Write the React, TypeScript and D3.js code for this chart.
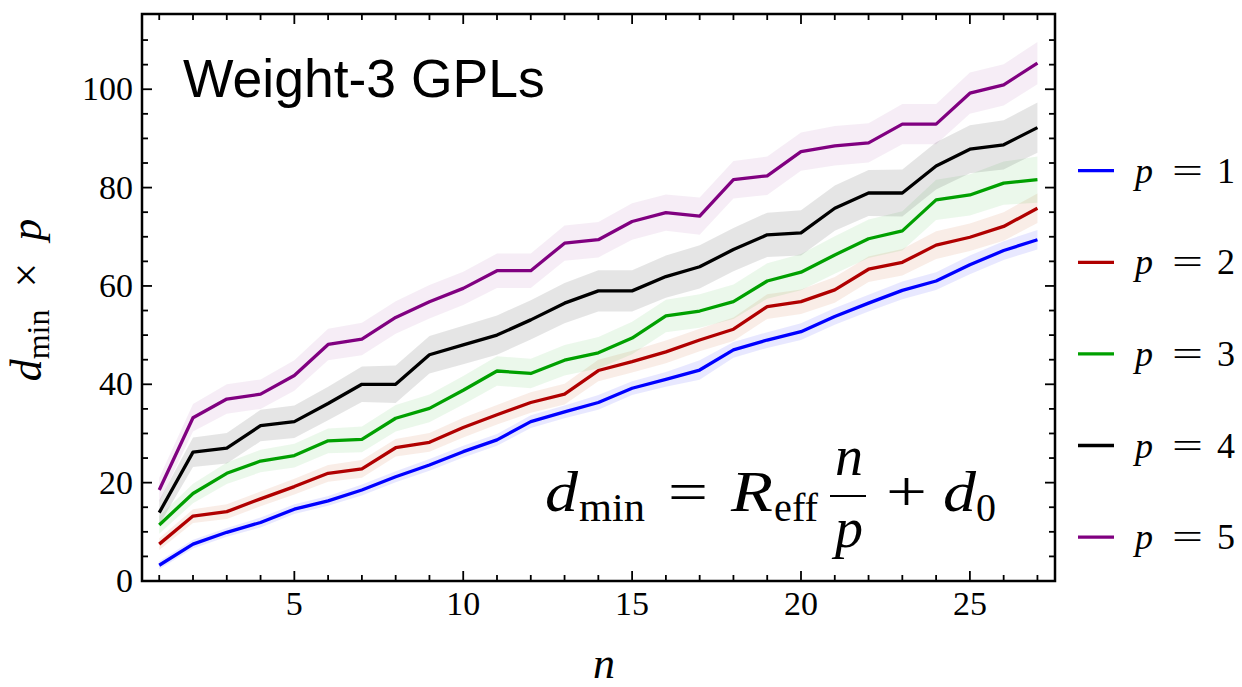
import React from "react";
import * as d3 from "d3";

const nValues = d3.range(1, 28);

const seriesP1 = [3.2, 7.5, 9.9, 11.9, 14.6, 16.3, 18.5, 21.2, 23.6, 26.3, 28.7, 32.4, 34.4, 36.3, 39.2, 41.0, 42.9, 47.0, 49.0, 50.7, 53.8, 56.5, 59.1, 61.0, 64.3, 67.2, 69.4];
const seriesP2 = [7.5, 13.2, 14.1, 16.7, 19.2, 21.9, 22.8, 27.1, 28.2, 31.2, 33.8, 36.3, 38.0, 42.8, 44.6, 46.6, 49.0, 51.2, 55.8, 56.8, 59.2, 63.4, 64.8, 68.3, 69.9, 72.1, 75.8];
const seriesP3 = [11.4, 17.8, 21.9, 24.4, 25.5, 28.5, 28.8, 33.1, 35.1, 38.8, 42.7, 42.2, 44.9, 46.4, 49.4, 53.9, 54.9, 56.8, 61.0, 62.8, 66.3, 69.6, 71.2, 77.5, 78.5, 80.9, 81.6];
const seriesP4 = [13.9, 26.2, 27.0, 31.6, 32.4, 36.1, 40.0, 40.0, 46.0, 48.0, 50.0, 53.1, 56.5, 59.0, 59.0, 61.9, 63.9, 67.4, 70.4, 70.8, 75.8, 78.9, 78.9, 84.4, 87.8, 88.7, 92.2];
const seriesP5 = [18.5, 33.2, 37.0, 38.0, 41.8, 48.1, 49.2, 53.6, 56.8, 59.5, 63.1, 63.1, 68.7, 69.4, 73.1, 74.9, 74.2, 81.6, 82.4, 87.3, 88.5, 89.1, 92.9, 92.9, 99.2, 100.9, 105.3];

// estimated half-widths of the shaded bands
const bandP1 = [0.8, 0.9, 0.9, 1.0, 1.0, 1.0, 1.1, 1.1, 1.2, 1.2, 1.2, 1.3, 1.3, 1.5, 1.4, 1.5, 2.0, 1.6, 1.6, 1.7, 1.7, 1.7, 1.8, 1.8, 1.9, 1.9, 2.0];
const bandP2 = [1.2, 1.4, 1.5, 1.5, 1.6, 1.7, 1.8, 1.8, 1.9, 2.0, 2.0, 2.1, 2.1, 2.2, 2.2, 2.3, 2.3, 2.4, 2.5, 2.5, 2.6, 2.6, 2.7, 2.8, 2.8, 2.9, 3.0];
const bandP3 = [1.8, 2.0, 2.2, 2.3, 2.4, 2.5, 2.6, 2.7, 2.8, 2.9, 3.0, 3.0, 3.1, 3.2, 3.3, 3.3, 3.4, 3.5, 3.6, 3.7, 3.8, 3.9, 4.0, 4.1, 4.2, 4.4, 4.7];
const bandP4 = [2.5, 3.0, 3.1, 3.2, 3.3, 3.4, 3.6, 3.8, 3.8, 3.9, 4.0, 4.0, 4.1, 4.2, 4.2, 4.3, 4.4, 4.4, 4.5, 4.6, 4.6, 4.7, 4.8, 4.8, 4.9, 5.0, 5.1];
const bandP5 = [2.5, 2.8, 3.0, 3.0, 3.1, 3.2, 3.3, 3.3, 3.4, 3.4, 3.5, 3.5, 3.6, 3.6, 3.7, 3.7, 3.8, 3.8, 3.9, 3.9, 4.0, 4.0, 4.1, 4.1, 4.2, 4.2, 4.3];

const pLabels = ["1", "2", "3", "4", "5"];
const lineColors = ["#0000ff", "#b00000", "#00a000", "#000000", "#800080"];
const bandColors = ["rgba(0,0,255,0.09)", "rgba(200,90,40,0.11)", "rgba(0,160,0,0.08)", "rgba(0,0,0,0.10)", "rgba(128,0,128,0.07)"];

const xTicksMajor = [5, 10, 15, 20, 25];
const yTicksMajor = [0, 20, 40, 60, 80, 100];

const W = 1242;
const H = 687;
const L = 142, R = 1055, T = 14, B = 581;

export default function App() {
  const x = d3.scaleLinear().domain([0.49, 27.52]).range([L, R]);
  const y = d3.scaleLinear().domain([0, 115.3]).range([B, T]);

  const allSeries = [seriesP1, seriesP2, seriesP3, seriesP4, seriesP5];
  const allBands = [bandP1, bandP2, bandP3, bandP4, bandP5];

  const line = d3.line<number>().x((_, i) => x(nValues[i])).y((d) => y(d));
  const area = (vals: number[], band: number[]) =>
    d3
      .area<number>()
      .x((_, i) => x(nValues[i]))
      .y0((d, i) => y(d - band[i]))
      .y1((d, i) => y(d + band[i]))(vals) as string;

  const xMinor = d3.range(1, 28);
  const yMinor = d3.range(0, 115, 5);
  const serif = "'Liberation Serif', 'Times New Roman', serif";

  const legendY = (i: number) => 170.7 + i * 91.6;

  return (
    <svg width={W} height={H} style={{ position: "absolute", left: 0, top: 0, background: "#fff" }}>
      <defs>
        <clipPath id="plotclip">
          <rect x={L} y={T} width={R - L} height={B - T} />
        </clipPath>
      </defs>
      <rect x={0} y={0} width={W} height={H} fill="#fff" />
      <g clipPath="url(#plotclip)">
        {allSeries.map((s, k) => (
          <path key={"b" + k} d={area(s, allBands[k])} fill={bandColors[k]} stroke="none" />
        ))}
        {allSeries.map((s, k) => (
          <path key={"l" + k} d={line(s) as string} fill="none" stroke={lineColors[k]} strokeWidth={3.3} strokeLinejoin="round" />
        ))}
      </g>

      {/* frame */}
      <rect x={L} y={T} width={R - L} height={B - T} fill="none" stroke="#000" strokeWidth={2.5} />

      {/* x ticks bottom and top */}
      {xMinor.map((n) => {
        const len = n % 5 === 0 ? 10 : 6;
        return (
          <g key={"xt" + n}>
            <line x1={x(n)} x2={x(n)} y1={B} y2={B - len} stroke="#000" strokeWidth={1.8} />
            <line x1={x(n)} x2={x(n)} y1={T} y2={T + len} stroke="#000" strokeWidth={1.8} />
          </g>
        );
      })}
      {/* y ticks left and right */}
      {yMinor.map((v) => {
        const len = v % 20 === 0 ? 10 : 6;
        return (
          <g key={"yt" + v}>
            <line x1={L} x2={L + len} y1={y(v)} y2={y(v)} stroke="#000" strokeWidth={1.8} />
            <line x1={R} x2={R - len} y1={y(v)} y2={y(v)} stroke="#000" strokeWidth={1.8} />
          </g>
        );
      })}

      {/* tick labels */}
      {xTicksMajor.map((n) => (
        <text key={"xl" + n} x={x(n)} y={615} textAnchor="middle" fontFamily={serif} fontSize={34} fill="#000">
          {n}
        </text>
      ))}
      {yTicksMajor.map((v) => (
        <text key={"yl" + v} x={133} y={y(v) + 11} textAnchor="end" fontFamily={serif} fontSize={34} fill="#000">
          {v}
        </text>
      ))}

      {/* axis labels */}
      <text x={604} y={678} textAnchor="middle" fontFamily={serif} fontStyle="italic" fontSize={44} fill="#000">
        n
      </text>
      <text transform="translate(41,300) rotate(-90)" textAnchor="middle" fontFamily={serif} fontSize={44} fill="#000">
        <tspan fontStyle="italic">d</tspan>
        <tspan fontSize={32} dy={8}>min</tspan>
        <tspan dy={-8}>{"\u2002×\u2002"}</tspan>
        <tspan fontStyle="italic">p</tspan>
      </text>

      {/* title */}
      <text x={183} y={97} fontFamily="'Liberation Sans', Arial, Helvetica, sans-serif" fontSize={53.5} fill="#000">
        Weight-3 GPLs
      </text>

      {/* formula */}
      <g fontFamily={serif} fill="#000">
        <text x={545} y={511} fontSize={56} fontStyle="italic" textLength={33} lengthAdjust="spacingAndGlyphs">d</text>
        <text x={579} y={521} fontSize={40} textLength={66} lengthAdjust="spacingAndGlyphs">min</text>
        <text x={668} y={511} fontSize={56} textLength={40} lengthAdjust="spacingAndGlyphs">=</text>
        <text x={731} y={511} fontSize={56} fontStyle="italic" textLength={42} lengthAdjust="spacingAndGlyphs">R</text>
        <text x={774} y={521} fontSize={40} textLength={44} lengthAdjust="spacingAndGlyphs">eff</text>
        <line x1={830} x2={866} y1={496} y2={496} stroke="#000" strokeWidth={2} />
        <text x={849} y={475} fontSize={56} fontStyle="italic" textAnchor="middle">n</text>
        <text x={849} y={547} fontSize={56} fontStyle="italic" textAnchor="middle">p</text>
        <text x={886} y={511} fontSize={56} textLength={41} lengthAdjust="spacingAndGlyphs">+</text>
        <text x={943} y={511} fontSize={56} fontStyle="italic" textLength={33} lengthAdjust="spacingAndGlyphs">d</text>
        <text x={976} y={521} fontSize={40}>0</text>
      </g>

      {/* legend */}
      {pLabels.map((p, i) => (
        <g key={"lg" + i}>
          <line x1={1078} x2={1114} y1={legendY(i)} y2={legendY(i)} stroke={lineColors[i]} strokeWidth={3.3} />
          <g fontFamily={serif} fontSize={36} fill="#000">
            <text x={1135} y={legendY(i) + 12} fontStyle="italic">p</text>
            <text x={1172} y={legendY(i) + 12} textLength={31} lengthAdjust="spacingAndGlyphs">=</text>
            <text x={1217} y={legendY(i) + 12}>{p}</text>
          </g>
        </g>
      ))}
    </svg>
  );
}
